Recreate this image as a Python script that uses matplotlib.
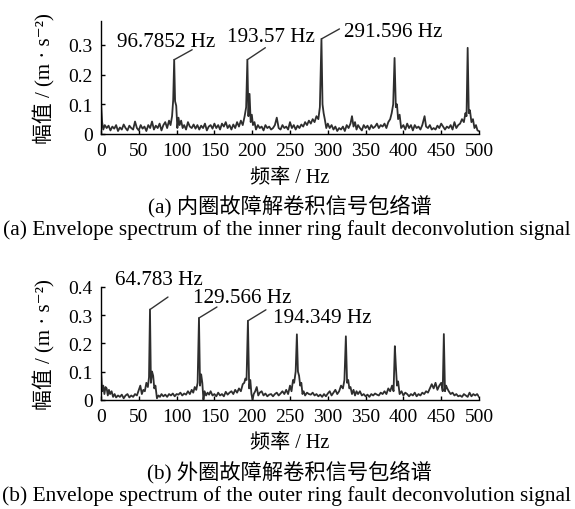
import numpy as np
import matplotlib
matplotlib.use("Agg")
import matplotlib.pyplot as plt
from matplotlib.ticker import FuncFormatter

plt.rcParams['font.family'] = ['Liberation Serif', 'DejaVu Serif', 'Noto Sans CJK SC']
plt.rcParams['font.size'] = 14

# (a) inner ring fault: envelope spectrum
freq_inner = [0, 1.5, 3, 5, 7.5, 10, 12.5, 15, 17.5, 20, 22.5, 25, 27.5, 30, 32.5, 35, 37.5, 40, 42.5, 45,
              47.5, 50, 52.5, 55, 57.5, 60, 62.5, 65, 67.5, 70, 72.5, 75, 77.5, 80, 82.5, 85, 87.5, 90, 92, 94,
              95.5, 96.8, 98, 99.5, 101, 102.5, 104, 106, 108, 110, 112.5, 115, 117.5, 120, 122.5, 125, 127.5,
              130, 132.5, 135, 137.5, 140, 142.5, 145, 147.5, 150, 152.5, 155, 157.5, 160, 162.5, 165, 167.5,
              170, 172.5, 175, 177.5, 180, 182.5, 185, 187.5, 190, 192, 193.6, 195, 196.5, 198, 199.5, 201, 203,
              205, 207.5, 210, 212.5, 215, 217.5, 220, 222.5, 225, 227.5, 230, 232.5, 235, 237.5, 240, 242.5,
              245, 247.5, 250, 252.5, 255, 257.5, 260, 262.5, 265, 267.5, 270, 272.5, 275, 277.5, 280, 282.5,
              285, 287.5, 289.5, 291.6, 293, 294.5, 296, 298, 300, 302.5, 305, 307.5, 310, 312.5, 315, 317.5,
              320, 322.5, 325, 327.5, 330, 332, 334, 336, 338, 340, 342.5, 345, 347.5, 350, 352.5, 355, 357.5,
              360, 362.5, 365, 367.5, 370, 372.5, 375, 377.5, 380, 382.5, 384.5, 386.5, 388.3, 390, 391.5, 393,
              395, 397, 400, 402.5, 405, 407.5, 410, 412.5, 415, 417.5, 420, 422.5, 425, 428, 430, 432.5, 435,
              437.5, 440, 442.5, 445, 447.5, 450, 452.5, 455, 457.5, 460, 462.5, 465, 467.5, 470, 472.5, 475,
              477.5, 480, 482, 483.5, 485, 486.5, 488, 490, 492, 494, 496, 498, 500]
amp_inner = [0.108, 0.04, 0.015, 0.03, 0.02, 0.028, 0.012, 0.025, 0.018, 0.03, 0.01, 0.022, 0.015, 0.032, 0.02,
             0.012, 0.028, 0.02, 0.015, 0.042, 0.02, 0.012, 0.03, 0.018, 0.025, 0.01, 0.03, 0.02, 0.042, 0.015,
             0.028, 0.02, 0.035, 0.012, 0.03, 0.04, 0.02, 0.045, 0.03, 0.06, 0.115, 0.25, 0.11, 0.095, 0.02,
             0.055, 0.03, 0.045, 0.02, 0.03, 0.015, 0.04, 0.025, 0.02, 0.032, 0.018, 0.03, 0.015, 0.028, 0.02,
             0.035, 0.012, 0.025, 0.03, 0.018, 0.035, 0.02, 0.03, 0.015, 0.035, 0.025, 0.04, 0.02, 0.03, 0.015,
             0.032, 0.02, 0.04, 0.025, 0.045, 0.03, 0.06, 0.09, 0.25, 0.06, 0.135, 0.04, 0.065, 0.03, 0.04,
             0.015, 0.03, 0.02, 0.025, 0.012, 0.03, 0.02, 0.025, 0.015, 0.02, 0.03, 0.055, 0.02, 0.015, 0.03,
             0.02, 0.025, 0.015, 0.04, 0.02, 0.03, 0.015, 0.028, 0.02, 0.032, 0.025, 0.04, 0.03, 0.045, 0.035,
             0.05, 0.04, 0.06, 0.05, 0.09, 0.32, 0.1, 0.07, 0.05, 0.02, 0.035, 0.02, 0.03, 0.015, 0.025, 0.01,
             0.02, 0.015, 0.025, 0.01, 0.03, 0.02, 0.035, 0.06, 0.025, 0.04, 0.015, 0.03, 0.02, 0.012, 0.03,
             0.02, 0.028, 0.015, 0.03, 0.02, 0.025, 0.035, 0.02, 0.03, 0.025, 0.035, 0.02, 0.04, 0.05, 0.07,
             0.1, 0.256, 0.09, 0.1, 0.05, 0.065, 0.02, 0.03, 0.015, 0.035, 0.02, 0.03, 0.012, 0.03, 0.02, 0.025,
             0.015, 0.03, 0.06, 0.025, 0.02, 0.03, 0.015, 0.02, 0.015, 0.028, 0.02, 0.035, 0.025, 0.015, 0.025,
             0.02, 0.03, 0.015, 0.04, 0.02, 0.03, 0.035, 0.05, 0.04, 0.07, 0.06, 0.29, 0.07, 0.08, 0.04, 0.05,
             0.02, 0.03, 0.012, 0.01]

# (b) outer ring fault
freq_outer = [0, 1.5, 3, 4.5, 6, 7.5, 9, 10.5, 12, 14, 16, 18, 20, 22.5, 25, 27.5, 30, 32.5, 35, 37.5, 40, 42.5,
              45, 47.5, 50, 52, 54, 56, 58, 60, 62, 63.5, 64.8, 66, 67.5, 69, 70.5, 72, 74, 76, 78, 80, 82.5, 85,
              87.5, 90, 92.5, 95, 97.5, 100, 102.5, 105, 107.5, 110, 112.5, 115, 117.5, 120, 122, 124, 126,
              127.8, 129.6, 131, 132.5, 134, 135.5, 137, 139, 141, 143, 145, 147.5, 150, 152.5, 155, 157.5, 160,
              162.5, 165, 167.5, 170, 172.5, 175, 177.5, 180, 182.5, 185, 187.5, 189.5, 191, 192.5, 194.35, 196,
              197.5, 199, 200.5, 202, 204, 206, 208, 210, 212.5, 215, 217.5, 220, 222.5, 225, 227.5, 230, 232.5,
              235, 237.5, 240, 242.5, 245, 247.5, 250, 252, 254, 255.5, 257.5, 259.1, 260.5, 262, 263.5, 265,
              266.5, 268, 270, 272.5, 275, 277.5, 280, 282.5, 285, 287.5, 290, 292.5, 295, 297.5, 300, 302.5,
              305, 307.5, 310, 312.5, 315, 317.5, 320, 322, 323.9, 325.5, 327, 328.5, 330, 332, 334, 336, 338,
              340, 342.5, 345, 347.5, 350, 352.5, 355, 357.5, 360, 362.5, 365, 367.5, 370, 372.5, 375, 377.5,
              380, 382.5, 385, 387, 388.7, 390, 391.5, 393, 395, 397.5, 400, 402.5, 405, 407.5, 410, 412.5, 415,
              417.5, 420, 422.5, 425, 427.5, 430, 432.5, 435, 437.5, 440, 442.5, 445, 447.5, 450, 452, 453.5,
              455, 456.5, 458, 460, 462.5, 465, 467.5, 470, 472.5, 475, 477.5, 480, 482.5, 485, 487.5, 490,
              492.5, 495, 497.5, 500]
amp_outer = [0.108, 0.03, 0.05, 0.02, 0.045, 0.04, 0.015, 0.035, 0.02, 0.03, 0.01, 0.02, 0.008, 0.015, 0.01,
             0.018, 0.005, 0.015, 0.02, 0.008, 0.015, 0.01, 0.02, 0.015, 0.035, 0.05, 0.02, 0.035, 0.03, 0.06,
             0.045, 0.08, 0.32, 0.06, 0.1, 0.085, 0.04, 0.05, 0.005, 0.015, 0.01, 0.02, 0.012, 0.018, 0.01, 0.02,
             0.015, 0.022, 0.012, 0.02, 0.018, 0.025, 0.015, 0.022, 0.018, 0.03, 0.02, 0.035, 0.025, 0.045,
             0.035, 0.06, 0.29, 0.05, 0.09, 0.06, 0.0, 0.03, 0.015, 0.025, 0.018, 0.03, 0.015, 0.02, 0.012,
             0.025, 0.015, 0.02, 0.012, 0.028, 0.018, 0.025, 0.03, 0.02, 0.035, 0.025, 0.04, 0.03, 0.055, 0.06,
             0.075, 0.07, 0.28, 0.04, 0.07, 0.02, 0.0, 0.02, 0.03, 0.045, 0.015, 0.025, 0.03, 0.015, 0.022,
             0.012, 0.018, 0.02, 0.012, 0.02, 0.025, 0.015, 0.022, 0.03, 0.02, 0.035, 0.02, 0.05, 0.03, 0.07,
             0.06, 0.1, 0.232, 0.1, 0.085, 0.05, 0.06, 0.02, 0.03, 0.015, 0.025, 0.02, 0.018, 0.025, 0.015,
             0.02, 0.012, 0.018, 0.01, 0.02, 0.012, 0.022, 0.03, 0.015, 0.025, 0.035, 0.02, 0.03, 0.05, 0.04,
             0.07, 0.225, 0.06, 0.07, 0.04, 0.045, 0.02, 0.035, 0.015, 0.03, 0.02, 0.03, 0.015, 0.02, 0.012,
             0.018, 0.01, 0.02, 0.015, 0.022, 0.018, 0.015, 0.025, 0.02, 0.03, 0.02, 0.04, 0.03, 0.05, 0.03,
             0.19, 0.12, 0.05, 0.065, 0.02, 0.03, 0.015, 0.025, 0.02, 0.012, 0.02, 0.015, 0.025, 0.012, 0.02,
             0.015, 0.025, 0.02, 0.03, 0.025, 0.04, 0.055, 0.04, 0.06, 0.035, 0.05, 0.06, 0.03, 0.233, 0.03,
             0.05, 0.04, 0.03, 0.02, 0.025, 0.015, 0.02, 0.012, 0.015, 0.01, 0.02, 0.015, 0.01, 0.025, 0.012,
             0.02, 0.015, 0.02, 0.01]

# annotated peaks
peaks_inner = [96.7852, 193.57, 291.596]
peak_amp_inner = [0.25, 0.25, 0.32]
peaks_outer = [64.783, 129.566, 194.349]
peak_amp_outer = [0.32, 0.29, 0.28]

xticks = [0, 50, 100, 150, 200, 250, 300, 350, 400, 450, 500]
ylabel = '幅值 / (m · s⁻²)'
xlabel = '频率 / Hz'
cap_a = ['(a) 内圈故障解卷积信号包络谱', '(a) Envelope spectrum of the inner ring fault deconvolution signal']
cap_b = ['(b) 外圈故障解卷积信号包络谱', '(b) Envelope spectrum of the outer ring fault deconvolution signal']

W, H = 575, 510
# px -> pt at dpi 100
k = 0.72
# (line end offset, text offset) in px, y measured upwards
ann_inner = [((18, 10), (-57, 14)), ((18, 12), (-20, 19)), ((18, 10), (23, 3))]
ann_outer = [((18, 12.5), (-35, 25.5)), ((18, 11), (-6, 16)), ((18, 11), (25, -1))]

fig = plt.figure(figsize=(5.75, 5.1), dpi=100)
ax1 = fig.add_axes([101 / W, 1 - 135 / H, 378 / W, 112.9 / H])
ax2 = fig.add_axes([101 / W, 1 - 400.7 / H, 378 / W, 112.7 / H])

fmt = FuncFormatter(lambda v, p: '0' if v == 0 else '%.1f' % v)

for ax, f, a, pf, pa, ann, ylim, yt, hpx in [
        (ax1, freq_inner, amp_inner, peaks_inner, peak_amp_inner, ann_inner, 0.38, [0, 0.1, 0.2, 0.3], 112.9),
        (ax2, freq_outer, amp_outer, peaks_outer, peak_amp_outer, ann_outer, 0.4, [0, 0.1, 0.2, 0.3, 0.4], 112.7)]:
    ax.plot(f, a, color='#2e2e2e', lw=1.3)
    ax.set_xlim(0, 500)
    ax.set_ylim(0, ylim)
    ax.set_xticks(xticks)
    ax.set_yticks(yt)
    ax.yaxis.set_major_formatter(fmt)
    for s in ['top', 'right']:
        ax.spines[s].set_visible(False)
    for s in ['left', 'bottom']:
        ax.spines[s].set_linewidth(1.0)
    ax.tick_params(direction='in', length=3, width=1, labelsize=14)
    ax.tick_params(axis='x', pad=6)
    ax.tick_params(axis='y', pad=6)
    ax.set_xlabel(xlabel, fontsize=14.5, va='center')
    ax.xaxis.set_label_coords(0.5, -43 / hpx)
    ax.set_ylabel(ylabel, fontsize=15, va='center')
    ax.yaxis.set_label_coords(-57 / 378, 0.5)
    for x, y, ((lx, ly), (tx, ty)) in zip(pf, pa, ann):
        ax.annotate('', xy=(x, y), xytext=(lx * k, ly * k), textcoords='offset points',
                    arrowprops=dict(arrowstyle='-', color='#333333', lw=1.0, shrinkA=0, shrinkB=0))
        ax.annotate('%g Hz' % x, xy=(x, y), xytext=(tx * k, ty * k), textcoords='offset points',
                    ha='left', va='baseline', fontsize=15.2)

fig.text(0.504, 1 - 206 / H, cap_a[0], ha='center', va='center', fontsize=15.3)
fig.text(0.498, 1 - 230 / H, cap_a[1], ha='center', va='center', fontsize=15.4)
fig.text(0.504, 1 - 472 / H, cap_b[0], ha='center', va='center', fontsize=15.3)
fig.text(0.498, 1 - 496 / H, cap_b[1], ha='center', va='center', fontsize=15.4)

fig.savefig('out.png', dpi=100)
